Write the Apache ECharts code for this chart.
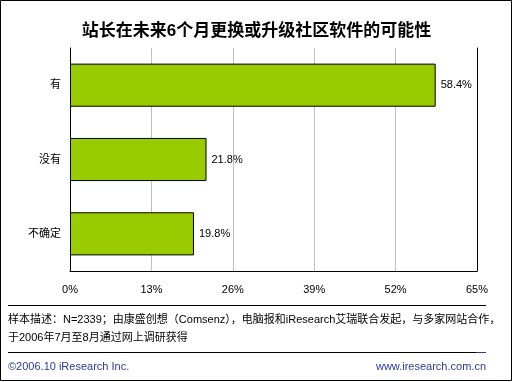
<!DOCTYPE html>
<html><head><meta charset="utf-8">
<script src="https://cdn.jsdelivr.net/npm/echarts@6/dist/echarts.min.js"></script>
<style>html,body{margin:0;padding:0;background:#fff}#c{width:513px;height:382px}</style>
</head><body><div id="c"></div>
<script>
const titleText = '站长在未来6个月更换或升级社区软件的可能性';
const categories = ['有', '没有', '不确定'];
const values = [58.4, 21.8, 19.8];
const xTicks = [0, 13, 26, 39, 52, 65];
const noteLine1 = '样本描述：N=2339；由康盛创想（Comsenz），电脑报和iResearch艾瑞联合发起，与多家网站合作，';
const noteLine2 = '于2006年7月至8月通过网上调研获得';
const copyright = '©2006.10 iResearch Inc.';
const website = 'www.iresearch.com.cn';

const FF = '"Liberation Sans", "Noto Sans CJK SC", sans-serif';
const chart = echarts.init(document.getElementById('c'));
chart.setOption({
  animation: false,
  backgroundColor: '#fff',
  title: { text: titleText, left: 'center', top: 18,
    textStyle: { fontSize: 17, fontWeight: 'bold', color: '#000', fontFamily: FF } },
  grid: { left: 70, right: 36, top: 48, bottom: 111 },
  xAxis: {
    type: 'value', min: xTicks[0], max: xTicks[xTicks.length - 1], interval: 13,
    axisLine: { show: true, lineStyle: { color: '#000', width: 1 } },
    axisTick: { show: false },
    axisLabel: { formatter: '{value}%', fontSize: 11, color: '#000', margin: 13, fontFamily: FF },
    splitLine: { show: true, lineStyle: { color: '#c0c0c0', width: 1 } }
  },
  yAxis: [{
    type: 'category', data: categories.slice().reverse(), z: 5,
    axisLine: { show: true, lineStyle: { color: '#000', width: 1 } },
    axisTick: { show: false },
    axisLabel: { fontSize: 11, color: '#000', margin: 9, fontFamily: FF }
  }, {
    type: 'category', data: categories.slice().reverse(), position: 'right', z: 5,
    axisLine: { show: true, lineStyle: { color: '#000', width: 1 } },
    axisTick: { show: false }, axisLabel: { show: false }
  }],
  series: [{
    type: 'bar', data: values.slice().reverse(), barCategoryGap: '42%',
    itemStyle: { color: '#99CC00', borderColor: '#000', borderWidth: 1 },
    label: { show: true, position: 'right', distance: 5, formatter: '{c}%',
      fontSize: 11, color: '#000', fontFamily: FF }
  }],
  graphic: [
    { type: 'rect', shape: { x: 0.5, y: 0.5, width: 511, height: 380 }, style: { fill: 'none', stroke: '#000', lineWidth: 1 } },
    { type: 'line', shape: { x1: 8, y1: 305.5, x2: 486, y2: 305.5 }, style: { stroke: '#000', lineWidth: 1 } },
    { type: 'text', left: 8, top: 314, style: { text: noteLine1, fontSize: 11, fill: '#000', fontFamily: FF } },
    { type: 'text', left: 8, top: 332, style: { text: noteLine2, fontSize: 11, fill: '#000', fontFamily: FF } },
    { type: 'line', shape: { x1: 8, y1: 352.5, x2: 476, y2: 352.5 }, style: { stroke: '#000', lineWidth: 1 } },
    { type: 'line', shape: { x1: 476, y1: 352.5, x2: 486, y2: 352.5 }, style: { stroke: '#2A3C9B', lineWidth: 1 } },
    { type: 'text', left: 8, top: 361, style: { text: copyright, fontSize: 11, fill: '#2A3C9B', fontFamily: FF } },
    { type: 'text', right: 27, top: 361, style: { text: website, fontSize: 11, fill: '#2A3C9B', fontFamily: FF } }
  ]
});
</script></body></html>
